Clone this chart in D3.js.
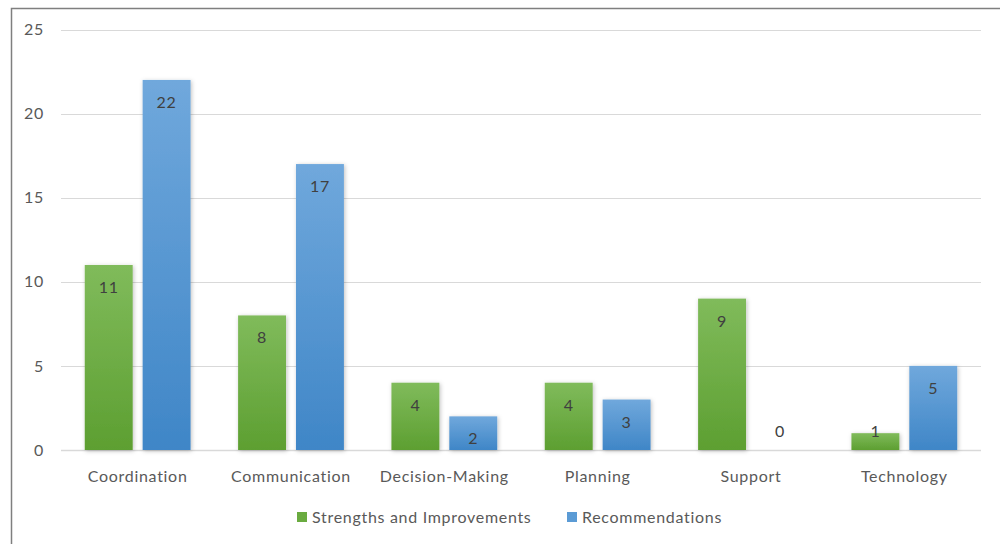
<!DOCTYPE html>
<meta charset="utf-8">
<script src="https://d3js.org/d3.v7.min.js"></script>
<style>
  body { margin: 0; background: #fff; }
  text { font-family: Lato, "Open Sans", sans-serif; letter-spacing: 0.7px; }
</style>
<div id="chart"></div>
<script>

// data
var categories = ["Coordination", "Communication", "Decision-Making", "Planning", "Support", "Technology"];
var strengths = [11, 8, 4, 4, 9, 1];
var recommendations = [22, 17, 2, 3, 0, 5];
var seriesNames = ["Strengths and Improvements", "Recommendations"];
var yTicks = [0, 5, 10, 15, 20, 25];

var width = 1000, height = 544;
var margin = {top: 29.5, left: 61, right: 19, bottom: 94};

var svg = d3.select("#chart").append("svg")
    .attr("width", width)
    .attr("height", height);

// gradients + shadow
var defs = svg.append("defs");
var grads = [["gGreen", "#80bb5b", "#5d9f31"], ["gBlue", "#70a8dc", "#3f86c7"]];
grads.forEach(function(g) {
  var lg = defs.append("linearGradient").attr("id", g[0])
    .attr("x1", 0).attr("y1", 0).attr("x2", 0).attr("y2", 1);
  lg.append("stop").attr("offset", "0%").attr("stop-color", g[1]);
  lg.append("stop").attr("offset", "100%").attr("stop-color", g[2]);
});
var f = defs.append("filter").attr("id", "shadow")
  .attr("x", "-20%").attr("y", "-20%").attr("width", "140%").attr("height", "140%");
f.append("feDropShadow").attr("dx", 1).attr("dy", 1).attr("stdDeviation", 2)
  .attr("flood-color", "#000").attr("flood-opacity", 0.25);

// frame
svg.append("rect")
  .attr("x", 11.5).attr("y", 8.5)
  .attr("width", 1000).attr("height", 600)
  .attr("fill", "none").attr("stroke", "#7f7f7f").attr("stroke-width", 1.5);

var x = d3.scaleBand()
  .domain(categories)
  .range([margin.left, width - margin.right]);

var y = d3.scaleLinear()
  .domain([0, 25])
  .range([height - margin.bottom, margin.top]);

var outer = x.bandwidth() * 0.155;
var xSub = d3.scaleBand()
  .domain(seriesNames)
  .range([outer, x.bandwidth() - outer])
  .paddingInner(0.172)
  .paddingOuter(0);

// gridlines
svg.append("g").selectAll("line")
  .data(yTicks)
  .enter().append("line")
    .attr("x1", margin.left).attr("x2", width - margin.right)
    .attr("y1", function(d) { return Math.round(y(d)) + 0.5; })
    .attr("y2", function(d) { return Math.round(y(d)) + 0.5; })
    .attr("stroke", "#d9d9d9")
    .attr("stroke-width", function(d) { return d == 0 ? 1.5 : 1.2; });

// y labels
svg.append("g").selectAll("text")
  .data(yTicks)
  .enter().append("text")
    .attr("x", 44)
    .attr("y", function(d) { return y(d); })
    .attr("dy", "0.35em")
    .attr("text-anchor", "end")
    .attr("font-size", 16)
    .attr("fill", "#595959")
    .text(function(d) { return d; });

// x labels
svg.append("g").selectAll("text")
  .data(categories)
  .enter().append("text")
    .attr("x", function(d) { return x(d) + x.bandwidth() / 2; })
    .attr("y", 482)
    .attr("text-anchor", "middle")
    .attr("font-size", 16)
    .attr("fill", "#595959")
    .text(function(d) { return d; });

var rows = categories.map(function(c, i) {
  return [
    {cat: c, key: seriesNames[0], value: strengths[i], fill: "url(#gGreen)"},
    {cat: c, key: seriesNames[1], value: recommendations[i], fill: "url(#gBlue)"}
  ];
});

var groups = svg.append("g").selectAll("g")
  .data(rows)
  .enter().append("g")
    .attr("transform", function(d) { return "translate(" + x(d[0].cat) + ",0)"; });

groups.selectAll("rect")
  .data(function(d) { return d.filter(function(e) { return e.value > 0; }); })
  .enter().append("rect")
    .attr("x", function(d) { return xSub(d.key); })
    .attr("y", function(d) { return y(d.value); })
    .attr("width", xSub.bandwidth())
    .attr("height", function(d) { return y(0) - y(d.value); })
    .attr("fill", function(d) { return d.fill; })
    .attr("filter", "url(#shadow)");

// value labels
groups.selectAll("text")
  .data(function(d) { return d; })
  .enter().append("text")
    .attr("x", function(d) { return xSub(d.key) + xSub.bandwidth() / 2; })
    .attr("y", function(d) {
      if (d.value == 0) return y(0) - 13;
      if (d.value < 2) return y(0) - 13;
      return y(d.value) + 28;
    })
    .attr("text-anchor", "middle")
    .attr("font-size", 16)
    .attr("fill", "#404040")
    .text(function(d) { return d.value; });

// legend
var legendX = [297, 567];
var legend = svg.append("g").selectAll("g")
  .data(seriesNames)
  .enter().append("g")
    .attr("transform", function(d, i) { return "translate(" + legendX[i] + ",512)"; });
legend.append("rect")
  .attr("width", 10).attr("height", 10)
  .attr("fill", function(d, i) { return i == 0 ? "#6aab40" : "#5b9bd5"; });
legend.append("text")
  .attr("x", 15).attr("y", 5)
  .attr("dy", "0.35em")
  .attr("font-size", 16)
  .attr("fill", "#595959")
  .text(function(d) { return d; });

</script>
